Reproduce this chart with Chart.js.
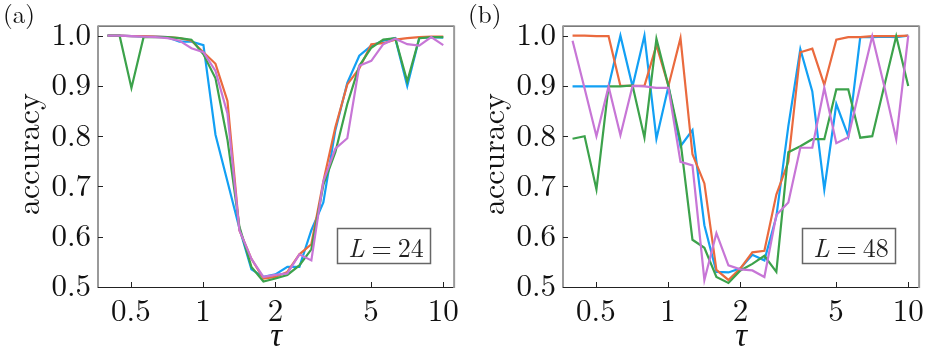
<!DOCTYPE html>
<html>
<head>
<meta charset="utf-8">
<script src="https://cdn.jsdelivr.net/npm/chart.js@4.4.1/dist/chart.umd.min.js"></script>
<style>
  html, body { margin: 0; padding: 0; background: #ffffff; }
  #wrap { position: relative; width: 937px; height: 359px; background: #ffffff; }
  #wrap canvas { position: absolute; top: 0; }
  #ca { left: 0; }
  #cb { left: 465px; }
</style>
</head>
<body>
<div id="wrap">
  <canvas id="ca" width="465" height="359"></canvas>
  <canvas id="cb" width="465" height="359"></canvas>
</div>
<script>
// ---- data ----
const tau = [0.4, 0.449, 0.503, 0.565, 0.633, 0.711, 0.797, 0.894, 1.003, 1.126, 1.263, 1.416, 1.589, 1.783, 2.0,
             2.243, 2.517, 2.823, 3.167, 3.553, 3.985, 4.471, 5.016, 5.626, 6.312, 7.081, 7.943, 8.911, 10.0];

// panel (a), L = 24
const blueA   = [1.0, 1.0, 0.999, 0.998, 0.998, 0.997, 0.988, 0.988, 0.981, 0.803, 0.71, 0.617, 0.535, 0.52, 0.525,
                 0.54, 0.54, 0.613, 0.668, 0.812, 0.906, 0.96, 0.98, 0.99, 0.995, 0.9, 0.995, 0.997, 0.996];
const orangeA = [1.0, 1.0, 0.999, 0.999, 0.998, 0.997, 0.995, 0.99, 0.967, 0.944, 0.87, 0.613, 0.556, 0.517, 0.52,
                 0.53, 0.565, 0.585, 0.71, 0.818, 0.903, 0.935, 0.983, 0.985, 0.992, 0.995, 0.997, 0.998, 0.998];
const greenA  = [1.0, 1.0, 0.896, 0.997, 0.997, 0.997, 0.995, 0.992, 0.963, 0.915, 0.793, 0.62, 0.54, 0.511, 0.517,
                 0.524, 0.543, 0.575, 0.703, 0.768, 0.864, 0.94, 0.976, 0.992, 0.995, 0.909, 0.995, 0.997, 0.997];
const purpleA = [1.0, 1.0, 0.999, 0.998, 0.997, 0.995, 0.99, 0.975, 0.967, 0.93, 0.845, 0.613, 0.556, 0.52, 0.524,
                 0.527, 0.565, 0.553, 0.71, 0.775, 0.796, 0.94, 0.95, 0.983, 0.994, 0.983, 0.98, 0.997, 0.981];

// panel (b), L = 48
const blueB   = [0.899, 0.899, 0.899, 0.899, 1.0, 0.899, 1.0, 0.795, 0.899, 0.78, 0.812, 0.623, 0.53, 0.529, 0.537,
                 0.564, 0.553, 0.64, 0.82, 0.973, 0.889, 0.694, 0.864, 0.8, 0.997, 0.997, 0.998, 0.997, 1.0];
const orangeB = [1.0, 1.0, 0.999, 0.999, 0.9, 0.9, 0.9, 0.981, 0.9, 0.995, 0.764, 0.706, 0.534, 0.514, 0.537,
                 0.569, 0.572, 0.684, 0.749, 0.967, 0.974, 0.902, 0.992, 0.997, 0.997, 0.999, 0.999, 0.999, 1.0];
const greenB  = [0.795, 0.8, 0.694, 0.899, 0.899, 0.901, 0.797, 0.994, 0.9, 0.79, 0.594, 0.578, 0.52, 0.508, 0.533,
                 0.546, 0.562, 0.53, 0.768, 0.78, 0.794, 0.794, 0.893, 0.893, 0.797, 0.8, 0.9, 0.999, 0.9];
const purpleB = [0.99, 0.895, 0.8, 0.899, 0.802, 0.9, 0.899, 0.896, 0.896, 0.749, 0.742, 0.514, 0.607, 0.543, 0.535,
                 0.533, 0.52, 0.643, 0.668, 0.777, 0.777, 0.896, 0.786, 0.798, 0.9, 0.999, 0.9, 0.794, 1.0];

const xTicks = [0.5, 1, 2, 5, 10];
const xTickLabels = ['0.5', '1', '2', '5', '10'];
const yTicks = [0.5, 0.6, 0.7, 0.8, 0.9, 1.0];
const yTickLabels = ['0.5', '0.6', '0.7', '0.8', '0.9', '1.0'];

// ---- styling ----
const COLORS = { blue: '#12a0f4', orange: '#ea6a3e', green: '#3ca24b', purple: '#c776d6' };

function pickFont(cands) {
  const c = document.createElement('canvas').getContext('2d');
  const probe = 'abcdefghijklmnopqrstuvwxyzWMl0123456789';
  c.font = '40px monospace'; const wm = c.measureText(probe).width;
  for (const f of cands) {
    c.font = '40px "' + f + '", monospace'; const a = c.measureText(probe).width;
    c.font = '40px "' + f + '", sans-serif'; const b = c.measureText(probe).width;
    if (a !== wm && Math.abs(a - b) < 0.01) return '"' + f + '"';
  }
  return 'serif';
}
const SERIF = pickFont(['Latin Modern Roman', 'CMU Serif', 'Liberation Serif', 'Times New Roman', 'Tinos',
                        'Nimbus Roman', 'Noto Serif', 'DejaVu Serif', 'FreeSerif']);

const framePlugin = {
  id: 'frame',
  afterDatasetsDraw(chart, args, opts) {
    const { ctx, chartArea: { left, right, top, bottom }, scales: { x, y } } = chart;
    ctx.save();
    // inset label box
    const bx = 337, by = 228, bw = 93, bh = 35;
    ctx.fillStyle = '#ffffff';
    ctx.fillRect(bx, by, bw, bh);
    ctx.strokeStyle = '#666666';
    ctx.lineWidth = 1.5;
    ctx.strokeRect(bx + 0.5, by + 0.5, bw, bh);
    ctx.fillStyle = '#222222';
    ctx.textBaseline = 'alphabetic';
    ctx.textAlign = 'left';
    const fItal = 'italic 26px ' + SERIF, fReg = '26px ' + SERIF;
    ctx.font = fItal; const wL = ctx.measureText('L').width;
    ctx.font = fReg;
    const wEq = ctx.measureText('=').width, wNum = ctx.measureText(opts.size).width;
    const gap1 = 7, gap2 = 6;
    const total = wL + gap1 + wEq + gap2 + wNum;
    const sx = 386 - total / 2;
    ctx.font = fItal; ctx.fillText('L', sx, 257);
    ctx.font = fReg;
    ctx.fillText('=', sx + wL + gap1, 257);
    ctx.fillText(opts.size, sx + wL + gap1 + wEq + gap2, 257);

    // spines
    ctx.lineWidth = 1;
    ctx.strokeStyle = '#222222';
    ctx.beginPath();
    ctx.moveTo(left, top + 0.5); ctx.lineTo(right, top + 0.5);
    ctx.moveTo(left, bottom + 0.5); ctx.lineTo(right, bottom + 0.5);
    ctx.stroke();
    ctx.lineWidth = 2;
    ctx.strokeStyle = '#9a9a9a';
    ctx.beginPath();
    ctx.moveTo(left, top); ctx.lineTo(left, bottom + 1);
    ctx.moveTo(right, top); ctx.lineTo(right, bottom + 1);
    ctx.stroke();
    // inward ticks
    ctx.lineWidth = 1;
    ctx.strokeStyle = '#222222';
    ctx.beginPath();
    yTicks.forEach(v => {
      const py = Math.round(y.getPixelForValue(v)) + 0.5;
      ctx.moveTo(left, py); ctx.lineTo(left + 5, py);
    });
    xTicks.forEach(v => {
      const px = Math.round(x.getPixelForValue(v)) + 0.5;
      ctx.moveTo(px, bottom); ctx.lineTo(px, bottom - 5);
    });
    ctx.stroke();

    // axis titles and panel label
    ctx.fillStyle = '#111111';
    ctx.font = '32px ' + SERIF;
    ctx.save();
    ctx.translate(39, 154);
    ctx.rotate(-Math.PI / 2);
    ctx.textAlign = 'center';
    ctx.fillText('accuracy', 0, 0);
    ctx.restore();
    ctx.font = 'italic 33px ' + SERIF;
    ctx.textAlign = 'center';
    ctx.fillText('\u03c4', (left + right) / 2, 346);
    ctx.font = '25px ' + SERIF;
    ctx.textAlign = 'left';
    ctx.fillText(opts.label, 3, 23);
    ctx.restore();
  }
};

function makeChart(id, label, size, series) {
  const names = ['blue', 'orange', 'green', 'purple'];
  const datasets = series.map((vals, i) => ({
    label: names[i],
    data: tau.map((t, k) => ({ x: t, y: vals[k] })),
    borderColor: COLORS[names[i]],
    backgroundColor: COLORS[names[i]],
    borderWidth: 2.2,
    pointRadius: 0,
    tension: 0,
    fill: false,
    order: names.length - i
  }));
  return new Chart(document.getElementById(id), {
    type: 'line',
    data: { datasets },
    plugins: [framePlugin],
    options: {
      responsive: false,
      animation: false,
      devicePixelRatio: 1,
      layout: { padding: { top: 17, right: 8, left: 0, bottom: 0 } },
      plugins: {
        legend: { display: false },
        tooltip: { enabled: false },
        frame: { label, size }
      },
      scales: {
        x: {
          type: 'logarithmic',
          min: 0.365,
          max: 11.1,
          afterBuildTicks: s => { s.ticks = xTicks.map(v => ({ value: v, major: false })); },
          afterFit: s => { s.height = 72; },
          grid: { display: false, drawTicks: false },
          border: { display: false },
          ticks: {
            autoSkip: false,
            maxRotation: 0,
            padding: 6,
            color: '#111111',
            font: { family: SERIF, size: 31 },
            callback: (v, i) => xTickLabels[i]
          }
        },
        y: {
          type: 'linear',
          min: 0.5,
          max: 1.02,
          afterBuildTicks: s => { s.ticks = yTicks.map(v => ({ value: v })); },
          afterFit: s => { s.width = 98; },
          grid: { display: false, drawTicks: false },
          border: { display: false },
          ticks: {
            padding: 7,
            color: '#111111',
            font: { family: SERIF, size: 31 },
            callback: (v, i) => yTickLabels[i]
          }
        }
      }
    }
  });
}

makeChart('ca', '(a)', '24', [blueA, orangeA, greenA, purpleA]);
makeChart('cb', '(b)', '48', [blueB, orangeB, greenB, purpleB]);
</script>
</body>
</html>
